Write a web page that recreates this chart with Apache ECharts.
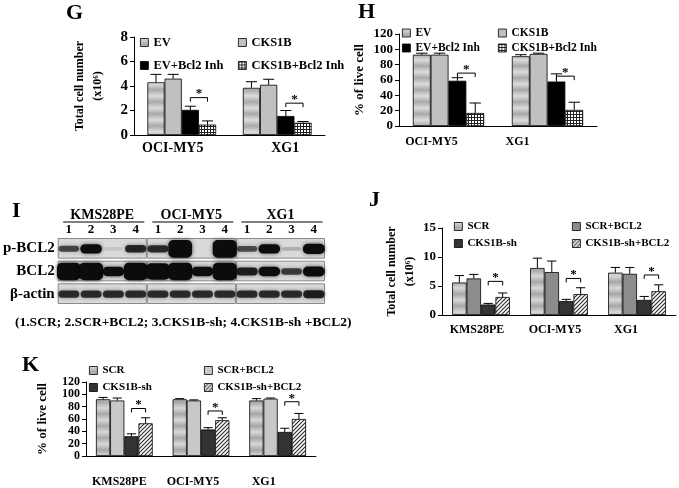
<!DOCTYPE html>
<html>
<head>
<meta charset="utf-8">
<script src="https://cdn.jsdelivr.net/npm/echarts@6/dist/echarts.min.js"></script>
<style>
html, body { margin: 0; padding: 0; background: #fff; }
#chart { width: 679px; height: 488px; }
</style>
</head>
<body>
<div id="chart"></div>
<script>
// ---------- data ----------
// G: total cell number (x10^6)
const gCats = ['OCI-MY5', 'XG1']
const gNames = ['EV', 'CKS1B', 'EV+Bcl2 Inh', 'CKS1B+Bcl2 Inh']
const gEV = [4.3, 3.85]
const gCKS1B = [4.6, 4.1]
const gEVInh = [2.05, 1.55]
const gCKS1BInh = [0.85, 1.0]
const gEVErr = [0.65, 0.5]
const gCKS1BErr = [0.35, 0.45]
const gEVInhErr = [0.3, 0.45]
const gCKS1BInhErr = [0.3, 0.1]
const gSig = [3.05, 2.6]

// H: % of live cell
const hCats = ['OCI-MY5', 'XG1']
const hEV = [93, 91]
const hCKS1B = [93, 94]
const hEVInh = [59, 58]
const hCKS1BInh = [17, 21]
const hEVErr = [2, 2]
const hCKS1BErr = [2, 1]
const hEVInhErr = [4, 10]
const hCKS1BInhErr = [13, 10]
const hSig = [69, 65]

// J: total cell number (x10^6)
const jkCats = ['KMS28PE', 'OCI-MY5', 'XG1']
const jkNames = ['SCR', 'SCR+BCL2', 'CKS1B-sh', 'CKS1B-sh+BCL2']
const jSCR = [5.6, 8.1, 7.3]
const jSCRBCL2 = [6.3, 7.4, 7.1]
const jSh = [1.8, 2.4, 2.6]
const jShBCL2 = [3.1, 3.6, 4.1]
const jSCRErr = [1.2, 1.7, 0.9]
const jSCRBCL2Err = [0.7, 1.9, 1.1]
const jShErr = [0.2, 0.3, 0.6]
const jShBCL2Err = [0.7, 1.1, 1.1]
const jSig = [5.8, 6.3, 6.9]

// K: % of live cell
const kSCR = [92, 92, 90]
const kSCRBCL2 = [90, 90, 93]
const kSh = [32, 43, 39]
const kShBCL2 = [53, 58, 60]
const kSCRErr = [3, 1, 3]
const kSCRBCL2Err = [4, 1, 1]
const kShErr = [4, 3, 6]
const kShBCL2Err = [9, 4, 9]
const kSig = [77, 73, 88]

// I: western blot, relative band signal per lane
const blotGroups = ['KMS28PE', 'OCI-MY5', 'XG1']
const blotLanes = ['1', '2', '3', '4']
const blotRows = ['p-BCL2', 'BCL2', 'β-actin']
const pBCL2Signal = [0.42, 0.62, 0.06, 0.52, 0.5, 0.95, 0.0, 1.0, 0.4, 0.62, 0.12, 0.66]
const bcl2Signal = [0.95, 1.0, 0.62, 0.95, 0.9, 1.0, 0.62, 1.0, 0.55, 0.62, 0.45, 0.66]
const actinSignal = [0.5, 0.5, 0.5, 0.5, 0.5, 0.5, 0.5, 0.5, 0.5, 0.5, 0.5, 0.55]
const blotCaption = '(1.SCR; 2.SCR+BCL2; 3.CKS1B-sh; 4.CKS1B-sh +BCL2)'

// ---------- fills ----------
const FONT = "'Liberation Serif', 'Times New Roman', serif"

function bandFill(light, dark, h) {
  const c = document.createElement('canvas')
  c.width = 4; c.height = h
  const ctx = c.getContext('2d')
  const gr = ctx.createLinearGradient(0, 0, 0, h)
  gr.addColorStop(0, light); gr.addColorStop(0.5, dark); gr.addColorStop(1, light)
  ctx.fillStyle = gr
  ctx.fillRect(0, 0, 4, h)
  return { image: c, repeat: 'repeat' }
}
function checkFill() {
  const c = document.createElement('canvas')
  c.width = 3; c.height = 3
  const ctx = c.getContext('2d')
  ctx.fillStyle = '#fff'; ctx.fillRect(0, 0, 3, 3)
  ctx.fillStyle = '#222'; ctx.fillRect(0, 0, 3, 1); ctx.fillRect(0, 0, 1, 3)
  return { image: c, repeat: 'repeat' }
}
function hatchFill() {
  const c = document.createElement('canvas')
  c.width = 4; c.height = 4
  const ctx = c.getContext('2d')
  ctx.fillStyle = '#fff'; ctx.fillRect(0, 0, 4, 4)
  ctx.strokeStyle = '#333'; ctx.lineWidth = 1.2
  ctx.beginPath(); ctx.moveTo(-1, 5); ctx.lineTo(5, -1); ctx.stroke()
  ctx.beginPath(); ctx.moveTo(-1, 1); ctx.lineTo(1, -1); ctx.stroke()
  ctx.beginPath(); ctx.moveTo(3, 5); ctx.lineTo(5, 3); ctx.stroke()
  return { image: c, repeat: 'repeat' }
}

const option = {
  backgroundColor: '#fff',
  animation: false,
  title: [],
  grid: [],
  xAxis: [],
  yAxis: [],
  legend: [],
  series: []
}

const bold = (size) => ({ fontFamily: FONT, fontWeight: 'bold', fontSize: size, color: '#000' })

function addBarPanel(p) {
  const gi = option.grid.length
  option.grid.push({ left: p.box[0], top: p.box[1], width: p.box[2], height: p.box[3] })
  const xi = option.xAxis.length
  const rich = {}
  p.shift.forEach((s, i) => {
    rich['s' + i] = Object.assign(bold(p.catSize), { padding: s < 0 ? [0, -2 * s, 0, 0] : [0, 0, 0, 2 * s] })
  })
  option.xAxis.push({
    gridIndex: gi, type: 'category', data: p.cats,
    axisLine: { lineStyle: { color: '#000', width: 1 } },
    axisTick: { length: 5, lineStyle: { color: '#000' } },
    axisLabel: Object.assign(bold(p.catSize), {
      margin: p.catMargin, interval: 0,
      formatter: (v, i) => '{s' + i + '|' + v + '}', rich: rich
    })
  })
  const yi = option.yAxis.length
  option.yAxis.push({
    gridIndex: gi, type: 'value', min: 0, max: p.max, interval: p.interval,
    axisLine: { show: true, lineStyle: { color: '#000', width: 1 } },
    axisTick: { show: true, length: 4, lineStyle: { color: '#000' } },
    splitLine: { show: false },
    axisLabel: Object.assign(bold(p.tickSize), {
      margin: 6, showMinLabel: true, showMaxLabel: true, hideOverlap: false, lineHeight: p.tickLine
    }),
    name: p.yName, nameLocation: 'middle', nameRotate: 90, nameGap: p.nameGap,
    nameTextStyle: Object.assign(bold(p.nameSize), { lineHeight: p.nameSize + 6 })
  })
  const gap = p.gap
  p.values.forEach((vals, i) => {
    option.series.push({
      type: 'bar', name: p.names[i], xAxisIndex: xi, yAxisIndex: yi,
      data: vals, barGap: '0%', barCategoryGap: (gap * 100) + '%',
      itemStyle: { color: p.fills[i], borderColor: '#000', borderWidth: 0.8 },
      z: 2
    })
  })
  // error bars (upper only)
  const errData = []
  p.errors.forEach((errs, i) => errs.forEach((e, j) => errData.push([j, p.values[i][j], e, i])))
  option.series.push({
    type: 'custom', xAxisIndex: xi, yAxisIndex: yi, data: errData, z: 3,
    encode: { x: 0, y: 1 },
    renderItem: (params, api) => {
      const j = api.value(0), v = api.value(1), e = api.value(2), i = api.value(3)
      const base = api.coord([j, v]), top = api.coord([j, v + e])
      const bw = api.size([1, 0])[0] * (1 - gap) / 4
      const x = base[0] + (i - 1.5) * bw
      const cap = bw * 0.32
      return {
        type: 'group', children: [
          { type: 'line', shape: { x1: x, y1: base[1], x2: x, y2: top[1] }, style: { stroke: '#000', lineWidth: 1 } },
          { type: 'line', shape: { x1: x - cap, y1: top[1], x2: x + cap, y2: top[1] }, style: { stroke: '#000', lineWidth: 1 } }
        ]
      }
    }
  })
  // significance brackets between bars 3 and 4
  option.series.push({
    type: 'custom', xAxisIndex: xi, yAxisIndex: yi, z: 4,
    data: p.sig.map((h, j) => [j, h]),
    encode: { x: 0, y: 1 },
    renderItem: (params, api) => {
      const c = api.coord([api.value(0), api.value(1)])
      const bw = api.size([1, 0])[0] * (1 - gap) / 4
      const x1 = c[0] + 0.5 * bw, x2 = c[0] + 1.5 * bw, y = c[1]
      const leg = 4
      return {
        type: 'group', children: [
          { type: 'polyline', shape: { points: [[x1, y + leg], [x1, y], [x2, y], [x2, y + leg]] }, style: { stroke: '#000', fill: null, lineWidth: 1 } },
          { type: 'text', x: (x1 + x2) / 2, y: y + 3, style: { text: '*', fontFamily: FONT, fontSize: p.starSize, fontWeight: 'bold', fill: '#000', align: 'center', verticalAlign: 'bottom' } }
        ]
      }
    }
  })
  // legends: two columns
  p.legendCols.forEach((col, ci) => {
    option.legend.push({
      left: col, top: p.legendTop, orient: 'vertical', itemGap: p.legendGap,
      itemWidth: 8, itemHeight: 8, selectedMode: false, padding: 0,
      textStyle: bold(p.legendSize),
      data: [ci, ci + 2].map(k => ({
        name: p.names[k], icon: 'rect',
        itemStyle: { color: p.fills[k], borderColor: '#000', borderWidth: 0.8 }
      }))
    })
  })
}

const evFill = bandFill('#dcdcdc', '#a9a9a9', 12)
const scrFill = bandFill('#d8d8d8', '#a6a6a6', 12)

addBarPanel({
  box: [134, 37, 191, 98], cats: gCats, names: gNames,
  values: [gEV, gCKS1B, gEVInh, gCKS1BInh],
  errors: [gEVErr, gCKS1BErr, gEVInhErr, gCKS1BInhErr], sig: gSig,
  fills: [evFill, '#c0c0c0', '#000', checkFill()],
  max: 8, interval: 2, gap: 0.28,
  yName: 'Total cell number\n(x10⁶)', nameGap: 27, nameSize: 12,
  tickSize: 15, tickLine: 15, catSize: 14, catMargin: 6, shift: [-9, 8], starSize: 13,
  legendCols: [140, 238], legendTop: 36, legendGap: 10, legendSize: 12.5
})
addBarPanel({
  box: [399, 34, 198, 92], cats: hCats, names: gNames,
  values: [hEV, hCKS1B, hEVInh, hCKS1BInh],
  errors: [hEVErr, hCKS1BErr, hEVInhErr, hCKS1BInhErr], sig: hSig,
  fills: [evFill, '#c0c0c0', '#000', checkFill()],
  max: 120, interval: 20, gap: 0.28,
  yName: '% of live cell', nameGap: 30, nameSize: 13,
  tickSize: 13, tickLine: 12, catSize: 12, catMargin: 10, shift: [-17, -30], starSize: 13,
  legendCols: [402, 498], legendTop: 27, legendGap: 3, legendSize: 11.5
})
addBarPanel({
  box: [442, 228, 234, 87], cats: jkCats, names: jkNames,
  values: [jSCR, jSCRBCL2, jSh, jShBCL2],
  errors: [jSCRErr, jSCRBCL2Err, jShErr, jShBCL2Err], sig: jSig,
  fills: [scrFill, '#8c8c8c', '#333', hatchFill()],
  max: 15, interval: 5, gap: 0.26,
  yName: 'Total cell number\n(x10⁶)', nameGap: 19, nameSize: 12,
  tickSize: 13, tickLine: 13, catSize: 12, catMargin: 9, shift: [-4, -4, -11], starSize: 13,
  legendCols: [454, 572], legendTop: 221, legendGap: 6, legendSize: 11
})
addBarPanel({
  box: [86, 382, 230, 74], cats: jkCats, names: jkNames,
  values: [kSCR, kSCRBCL2, kSh, kShBCL2],
  errors: [kSCRErr, kSCRBCL2Err, kShErr, kShBCL2Err], sig: kSig,
  fills: [scrFill, '#c8c8c8', '#333', hatchFill()],
  max: 120, interval: 20, gap: 0.26,
  yName: '% of live cell', nameGap: 34, nameSize: 13,
  tickSize: 12, tickLine: 10, catSize: 12, catMargin: 20, shift: [-5, -8, -14], starSize: 13,
  legendCols: [89, 204], legendTop: 365, legendGap: 6, legendSize: 11
})

// ---------- I: blot ----------
const bg = option.grid.length
option.grid.push({ left: 52, top: 237, width: 273, height: 68 })
const laneKeys = []
blotGroups.forEach(g => blotLanes.forEach(l => laneKeys.push(g + ':' + l)))
const bx = option.xAxis.length
option.xAxis.push({
  gridIndex: bg, type: 'category', data: laneKeys, position: 'top',
  axisLine: { show: false }, axisTick: { show: false },
  axisLabel: Object.assign(bold(13), { margin: 1, interval: 0, formatter: v => v.split(':')[1] })
})
option.xAxis.push({
  gridIndex: bg, type: 'category', data: blotGroups, position: 'top', offset: 13,
  axisLine: { show: false }, axisTick: { show: false },
  axisLabel: Object.assign(bold(14), { margin: 2 })
})
const by = option.yAxis.length
option.yAxis.push({
  gridIndex: bg, type: 'category', data: blotRows, inverse: true,
  axisLine: { show: false }, axisTick: { show: false }, splitLine: { show: false },
  axisLabel: Object.assign(bold(15), { margin: 3 })
})

// panel frames + group underlines
const frameData = []
blotGroups.forEach((g, gi) => blotRows.forEach((r, ri) => frameData.push([gi * 4, ri, gi])))
option.series.push({
  type: 'custom', xAxisIndex: bx, yAxisIndex: by, data: frameData, z: 1,
  encode: { x: 0, y: 1 },
  renderItem: (params, api) => {
    const first = api.value(0), row = api.value(1)
    const a = api.coord([first, row]), b = api.coord([first + 3, row])
    const s = api.size([1, 1])
    const x1 = a[0] - s[0] / 2 + 0.5, x2 = b[0] + s[0] / 2 - 0.5
    const y1 = a[1] - s[1] / 2 + 1.5, h = s[1] - 3
    const children = [{
      type: 'rect', shape: { x: x1, y: y1, width: x2 - x1, height: h },
      style: { fill: '#dadada', stroke: '#8a8a8a', lineWidth: 1 }
    }]
    if (row === 0) {
      const yl = params.coordSys.y - 15
      children.push({ type: 'line', shape: { x1: x1 + 5, y1: yl, x2: x2 - 2, y2: yl }, style: { stroke: '#555', lineWidth: 1.5 } })
    }
    return { type: 'group', children: children }
  }
})

const bandData = []
;[pBCL2Signal, bcl2Signal, actinSignal].forEach((sig, ri) => sig.forEach((s, li) => bandData.push([li, ri, s])))
option.series.push({
  type: 'custom', xAxisIndex: bx, yAxisIndex: by, data: bandData, z: 2,
  encode: { x: 0, y: 1 },
  renderItem: (params, api) => {
    const c = api.coord([api.value(0), api.value(1)])
    const s = api.size([1, 1])
    const sig = api.value(2)
    if (sig <= 0.01) return null
    const h = Math.min(s[1] - 5, s[1] * (0.16 + 0.72 * Math.pow(sig, 2.2)))
    const w = s[0] * (0.8 + 0.28 * sig)
    const a = Math.min(1, 1.6 * sig)
    return {
      type: 'rect',
      shape: { x: c[0] - w / 2, y: c[1] - h / 2 + 0.5, width: w, height: h, r: Math.min(h / 2, 5) },
      style: { fill: 'rgba(12,12,12,' + a + ')', shadowBlur: 4, shadowColor: 'rgba(0,0,0,' + (a * 0.6) + ')' }
    }
  }
})

// ---------- panel letters and caption ----------
const letters = [['G', 66, 2], ['H', 358, 1], ['I', 12, 200], ['J', 369, 189], ['K', 22, 354]]
letters.forEach(([t, l, tp]) => option.title.push({ text: t, left: l, top: tp, padding: 0, textStyle: bold(22) }))
option.title.push({ text: blotCaption, left: 15, top: 316, padding: 0, textStyle: bold(13.5) })

const chart = echarts.init(document.getElementById('chart'), null, { renderer: 'canvas' })
chart.setOption(option)
window.addEventListener('resize', () => chart.resize())
</script>
</body>
</html>
